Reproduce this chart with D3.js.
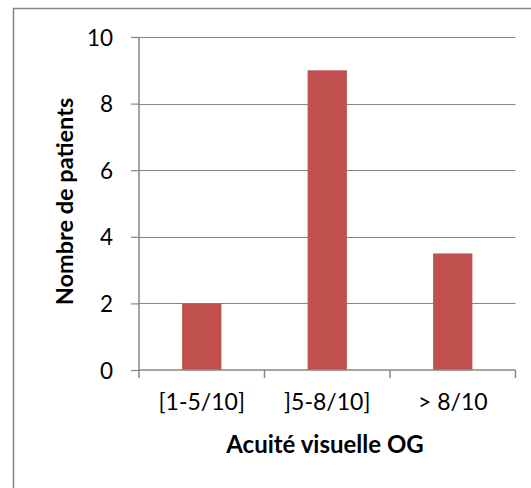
<!DOCTYPE html>
<html><head><meta charset="utf-8">
<script src="https://cdn.jsdelivr.net/npm/d3@7"></script>
<style>body{margin:0;background:#fff}svg{display:block}text{font-family:Lato,"Open Sans",sans-serif;fill:#000}</style>
</head><body>
<script>
const categories = ["[1-5/10]", "]5-8/10]", "> 8/10"];
const values = [2, 9, 3.5];
const yTicks = [0, 2, 4, 6, 8, 10];
const xTitle = "Acuité visuelle OG";
const yTitle = "Nombre de patients";

(function () {
const W = 531, H = 488;
const svg = d3.select("body").append("svg").attr("width", W).attr("height", H);
svg.append("rect").attr("x", 13.5).attr("y", 8.5).attr("width", 540).attr("height", 500)
  .attr("fill", "#fff").attr("stroke", "#868686").attr("stroke-width", 1.5);

const pL = 139, pR = 515.5, pT = 37, pB = 370;
const x = d3.scaleBand().domain(categories).range([pL, pR]).paddingInner(0.687).paddingOuter(0.3435);
const xb = d3.scaleBand().domain(categories).range([pL, pR]);
const y = d3.scaleLinear().domain([0, 10]).range([pB, pT]);

svg.append("g").selectAll("line").data(yTicks.filter(d => d > 0)).join("line")
  .attr("x1", pL).attr("x2", pR).attr("y1", d => Math.round(y(d)) + 0.5).attr("y2", d => Math.round(y(d)) + 0.5)
  .attr("stroke", "#868686").attr("stroke-width", 1.2);

svg.append("g").selectAll("rect").data(values).join("rect")
  .attr("x", (d, i) => x(categories[i])).attr("width", x.bandwidth())
  .attr("y", d => y(d)).attr("height", d => y(0) - y(d))
  .attr("fill", "#C0504D");

const ya = svg.append("g").attr("transform", `translate(${pL},0)`)
  .call(d3.axisLeft(y).tickValues(yTicks).tickSize(8).tickPadding(18).tickFormat(d3.format("d")));
ya.select(".domain").attr("stroke", "#868686").attr("stroke-width", 1.5).attr("d", `M0,${pT}V${pB}`);
ya.selectAll(".tick line").attr("stroke", "#868686").attr("stroke-width", 1.2);
ya.selectAll(".tick text").style("font-size", "22.5px").attr("fill", "#000").attr("dy", "0.36em");

const xa = svg.append("g").attr("transform", `translate(0,${pB})`)
  .call(d3.axisBottom(xb).tickSize(0).tickPadding(22));
xa.select(".domain").attr("stroke", "#868686").attr("stroke-width", 1.5).attr("d", `M${pL},0H${pR}`);
xa.selectAll(".tick text").style("font-size", "23px").attr("fill", "#000").attr("y", 40).attr("dy", "0");
const edges = [pL, ...categories.map(c => xb(c) + xb.bandwidth())];
xa.append("g").selectAll("line").data(edges).join("line")
  .attr("x1", d => d).attr("x2", d => d).attr("y1", 0).attr("y2", 8)
  .attr("stroke", "#868686").attr("stroke-width", 1.5);

svg.append("text").attr("x", 325).attr("y", 453).attr("text-anchor", "middle")
  .style("font-size", "24px").style("font-weight", "bold").text(xTitle);
svg.append("text").attr("transform", `translate(73,201.5) rotate(-90)`).attr("text-anchor", "middle")
  .style("font-size", "23.5px").style("font-weight", "bold").text(yTitle);
})();
</script>
</body></html>
